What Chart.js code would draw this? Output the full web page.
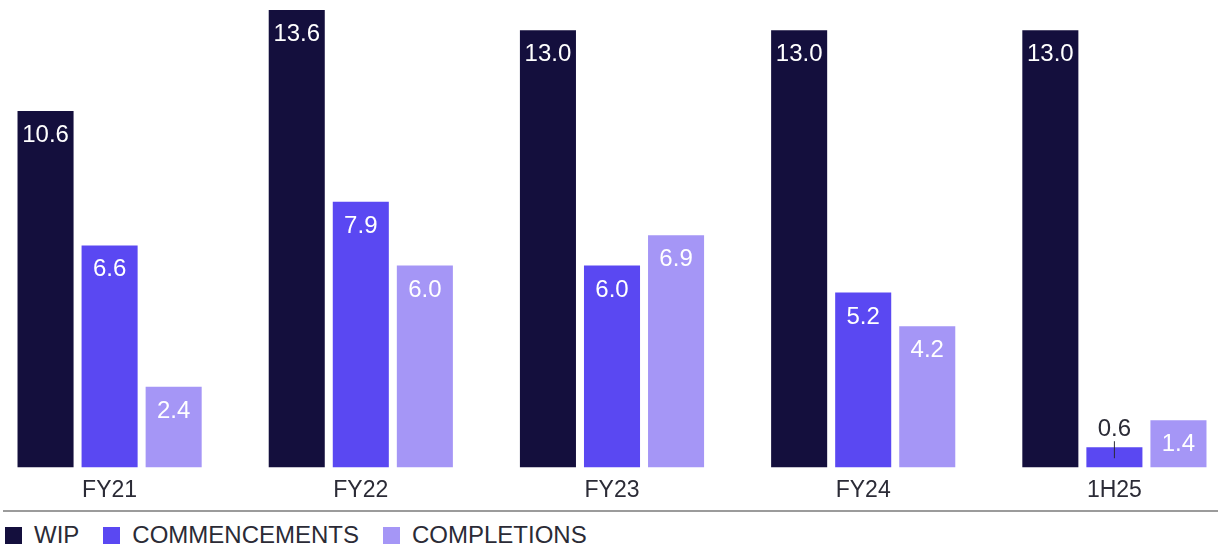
<!DOCTYPE html>
<html>
<head>
<meta charset="utf-8">
<script src="https://cdn.jsdelivr.net/npm/chart.js@4/dist/chart.umd.min.js"></script>
<style>
  html, body { margin: 0; padding: 0; background: #fff; overflow: hidden; }
  body { width: 1229px; height: 556px; position: relative; font-family: "Liberation Sans", Arial, sans-serif; }
  #chartWrap { position: absolute; left: -16px; top: 0; }
  #rule { position: absolute; left: 3px; top: 510px; width: 1215px; height: 2px; background: #9b9b9b; }
  #legend { position: absolute; left: 5px; top: 521px; display: flex; align-items: center; font-size: 24px; color: #2b2b36; }
  .item { display: flex; align-items: center; margin-right: 24px; }
  .swatch { width: 17px; height: 17px; margin-right: 12px; }
</style>
</head>
<body>
<div id="chartWrap"><canvas id="wipChart" width="1256" height="505"></canvas></div>
<div id="rule"></div>
<div id="legend"></div>
<script>
// Chart data
const categories = ['FY21', 'FY22', 'FY23', 'FY24', '1H25'];
const wip = [10.6, 13.6, 13.0, 13.0, 13.0];
const commencements = [6.6, 7.9, 6.0, 5.2, 0.6];
const completions = [2.4, 6.0, 6.9, 4.2, 1.4];

const colours = {
    wip: '#140f3d',
    commencements: '#5a48f2',
    completions: '#a596f6'
};

Chart.defaults.font.family = '"Liberation Sans", Arial, sans-serif';

// Value labels at the top of each bar (outside when the bar is too short)
const valueLabels = {
    id: 'valueLabels',
    afterDatasetsDraw(chart) {
        const ctx = chart.ctx;
        ctx.save();
        ctx.font = '24px "Liberation Sans", Arial, sans-serif';
        ctx.textAlign = 'center';
        ctx.textBaseline = 'alphabetic';
        chart.data.datasets.forEach((ds, i) => {
            chart.getDatasetMeta(i).data.forEach((bar, j) => {
                const text = ds.data[j].toFixed(1);
                const h = bar.base - bar.y;
                if (h < 35) {
                    ctx.fillStyle = '#2b2b36';
                    ctx.fillText(text, bar.x, bar.y - 11);
                    ctx.strokeStyle = '#2b2b36';
                    ctx.lineWidth = 1;
                    ctx.beginPath();
                    ctx.moveTo(bar.x, bar.y - 6);
                    ctx.lineTo(bar.x, bar.y + 11);
                    ctx.stroke();
                } else {
                    ctx.fillStyle = '#ffffff';
                    ctx.fillText(text, bar.x, bar.y + 31);
                }
            });
        });
        ctx.restore();
    }
};

new Chart(document.getElementById('wipChart'), {
    type: 'bar',
    data: {
        labels: categories,
        datasets: [{
            label: 'WIP',
            data: wip,
            backgroundColor: colours.wip
        }, {
            label: 'COMMENCEMENTS',
            data: commencements,
            backgroundColor: colours.commencements
        }, {
            label: 'COMPLETIONS',
            data: completions,
            backgroundColor: colours.completions
        }]
    },
    options: {
        responsive: false,
        animation: false,
        categoryPercentage: 0.765,
        barPercentage: 0.875,
        layout: {
            padding: { top: 10, left: 0, right: 0, bottom: 0 }
        },
        plugins: {
            legend: { display: false },
            tooltip: { enabled: false }
        },
        scales: {
            x: {
                grid: { display: false },
                border: { display: false },
                ticks: {
                    color: '#2b2b36',
                    padding: 1,
                    font: { size: 23 }
                }
            },
            y: {
                display: false,
                min: 0,
                max: 13.6
            }
        }
    },
    plugins: [valueLabels]
});

// Legend
const legend = document.getElementById('legend');
[['WIP', colours.wip], ['COMMENCEMENTS', colours.commencements], ['COMPLETIONS', colours.completions]].forEach(([name, colour]) => {
    const item = document.createElement('div');
    item.className = 'item';
    item.innerHTML = '<span class="swatch" style="background:' + colour + '"></span><span>' + name + '</span>';
    legend.appendChild(item);
});
</script>
</body>
</html>
